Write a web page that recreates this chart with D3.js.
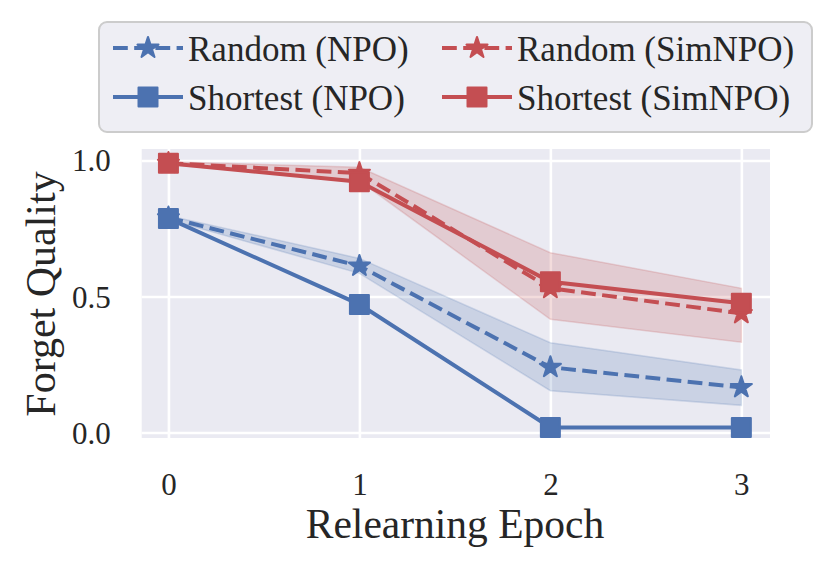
<!DOCTYPE html>
<html>
<head>
<meta charset="utf-8">
<script src="https://cdn.jsdelivr.net/npm/d3@7"></script>
<style>
  html, body { margin: 0; padding: 0; background: #ffffff; }
  svg { display: block; }
  text { font-family: "Liberation Serif", "Times New Roman", serif; fill: #262626; }
</style>
</head>
<body>
<svg id="chart" width="831" height="569"></svg>
<script>
// ---- data ----
const epochs = [0, 1, 2, 3];
const xTickLabels = ["0", "1", "2", "3"];
const yTicks = [0.0, 0.5, 1.0];
const yTickLabels = ["0.0", "0.5", "1.0"];

const randomNPO      = [0.790, 0.612, 0.240, 0.166];
const randomNPOLow   = [0.783, 0.585, 0.154, 0.100];
const randomNPOHigh  = [0.797, 0.640, 0.330, 0.230];
const shortestNPO    = [0.787, 0.471, 0.019, 0.019];

const randomSimNPO     = [0.990, 0.953, 0.530, 0.438];
const randomSimNPOLow  = [0.985, 0.925, 0.416, 0.332];
const randomSimNPOHigh = [0.995, 0.975, 0.661, 0.530];
const shortestSimNPO   = [0.990, 0.922, 0.554, 0.475];

const seriesNames = ["Random (NPO)", "Random (SimNPO)", "Shortest (NPO)", "Shortest (SimNPO)"];

// ---- styling ----
const BLUE = "#4c72b0", RED = "#c44e52";
const svg = d3.select("#chart");

const plot = { left: 141.7, right: 770, top: 149, bottom: 438 };
const x = d3.scaleLinear().domain([-0.14, 3.15]).range([plot.left, plot.right]);
const y = d3.scaleLinear().domain([-0.02, 1.042]).range([plot.bottom, plot.top]);

// background
svg.append("rect")
  .attr("x", plot.left).attr("y", plot.top)
  .attr("width", plot.right - plot.left).attr("height", plot.bottom - plot.top)
  .attr("fill", "#eaeaf2");

// gridlines via axes
const gx = svg.append("g").attr("transform", `translate(0,${plot.bottom})`)
  .call(d3.axisBottom(x).tickValues(epochs).tickSize(-(plot.bottom - plot.top)).tickFormat(""));
gx.select(".domain").remove();
gx.selectAll("line").attr("stroke", "#ffffff").attr("stroke-width", 2.6);

const gy = svg.append("g").attr("transform", `translate(${plot.left},0)`)
  .call(d3.axisLeft(y).tickValues(yTicks).tickSize(-(plot.right - plot.left)).tickFormat(""));
gy.select(".domain").remove();
gy.selectAll("line").attr("stroke", "#ffffff").attr("stroke-width", 2.6);

// tick labels via axes
const lx = svg.append("g").attr("transform", `translate(0,${plot.bottom})`)
  .call(d3.axisBottom(x).tickValues(epochs).tickSize(0).tickPadding(0)
    .tickFormat((d, i) => xTickLabels[i]));
lx.select(".domain").remove();
lx.selectAll("text").attr("font-size", 31).attr("dy", null).attr("y", 57)
  .style("font-family", '"Liberation Serif", serif').attr("fill", "#262626");

const ly = svg.append("g").attr("transform", `translate(${plot.left},0)`)
  .call(d3.axisLeft(y).tickValues(yTicks).tickSize(0).tickPadding(0)
    .tickFormat((d, i) => yTickLabels[i]));
ly.select(".domain").remove();
ly.selectAll("text").attr("font-size", 31).attr("x", -31).attr("dy", "0.34em")
  .style("font-family", '"Liberation Serif", serif').attr("fill", "#262626");

// axis titles
svg.append("text").attr("x", 455).attr("y", 538)
  .attr("text-anchor", "middle").attr("font-size", 41.5).text("Relearning Epoch");
svg.append("text").attr("transform", `translate(55,294) rotate(-90)`)
  .attr("text-anchor", "middle").attr("font-size", 42).text("Forget Quality");

// bands
const area = d3.area().x(d => x(d.x)).y0(d => y(d.lo)).y1(d => y(d.hi));
function band(lo, hi, color) {
  const pts = epochs.map((e, i) => ({ x: e, lo: lo[i], hi: hi[i] }));
  svg.append("path").attr("d", area(pts))
    .attr("fill", color).attr("fill-opacity", 0.2)
    .attr("stroke", color).attr("stroke-opacity", 0.2).attr("stroke-width", 1.5);
}
band(randomNPOLow, randomNPOHigh, BLUE);
band(randomSimNPOLow, randomSimNPOHigh, RED);

// lines
const line = d3.line().x(d => x(d.x)).y(d => y(d.y));
const starSym = d3.symbol().type(d3.symbolStar).size(138);
const squareSym = d3.symbol().type(d3.symbolSquare).size(361);

function drawMarker(g, marker, color) {
  return g.attr("d", marker === "star" ? starSym() : squareSym())
    .attr("fill", color).attr("stroke", color).attr("stroke-width", 2)
    .attr("stroke-linejoin", "round");
}

function series(vals, color, dashed, marker) {
  const pts = epochs.map((e, i) => ({ x: e, y: vals[i] }));
  svg.append("path").attr("d", line(pts)).attr("fill", "none")
    .attr("stroke", color).attr("stroke-width", 4)
    .attr("stroke-dasharray", dashed ? "14.8,6.4" : null);
  const m = svg.append("g").selectAll("path").data(pts).join("path")
    .attr("transform", d => `translate(${x(d.x)},${y(d.y)})`);
  drawMarker(m, marker, color);
}
series(randomNPO, BLUE, true, "star");
series(randomSimNPO, RED, true, "star");
series(shortestNPO, BLUE, false, "square");
series(shortestSimNPO, RED, false, "square");

// legend
const lg = svg.append("g");
lg.append("rect").attr("x", 99).attr("y", 22).attr("width", 713).attr("height", 110)
  .attr("rx", 8).attr("fill", "#eeeef4").attr("stroke", "#cccccc").attr("stroke-width", 2);
const legendItems = [
  { name: seriesNames[0], color: BLUE, dashed: true, marker: "star", col: 0, row: 0 },
  { name: seriesNames[1], color: RED, dashed: true, marker: "star", col: 1, row: 0 },
  { name: seriesNames[2], color: BLUE, dashed: false, marker: "square", col: 0, row: 1 },
  { name: seriesNames[3], color: RED, dashed: false, marker: "square", col: 1, row: 1 }
];
const colX = [113, 442];
const rowY = [48, 97];
legendItems.forEach(it => {
  const x0 = colX[it.col], yc = rowY[it.row];
  lg.append("line").attr("x1", x0).attr("x2", x0 + 70).attr("y1", yc).attr("y2", yc)
    .attr("stroke", it.color).attr("stroke-width", 4)
    .attr("stroke-dasharray", it.dashed ? "14.8,6.4" : null);
  drawMarker(lg.append("path").attr("transform", `translate(${x0 + 35},${yc})`), it.marker, it.color);
  lg.append("text").attr("x", x0 + 75).attr("y", yc + 13).attr("font-size", 35).text(it.name);
});
</script>
</body>
</html>
